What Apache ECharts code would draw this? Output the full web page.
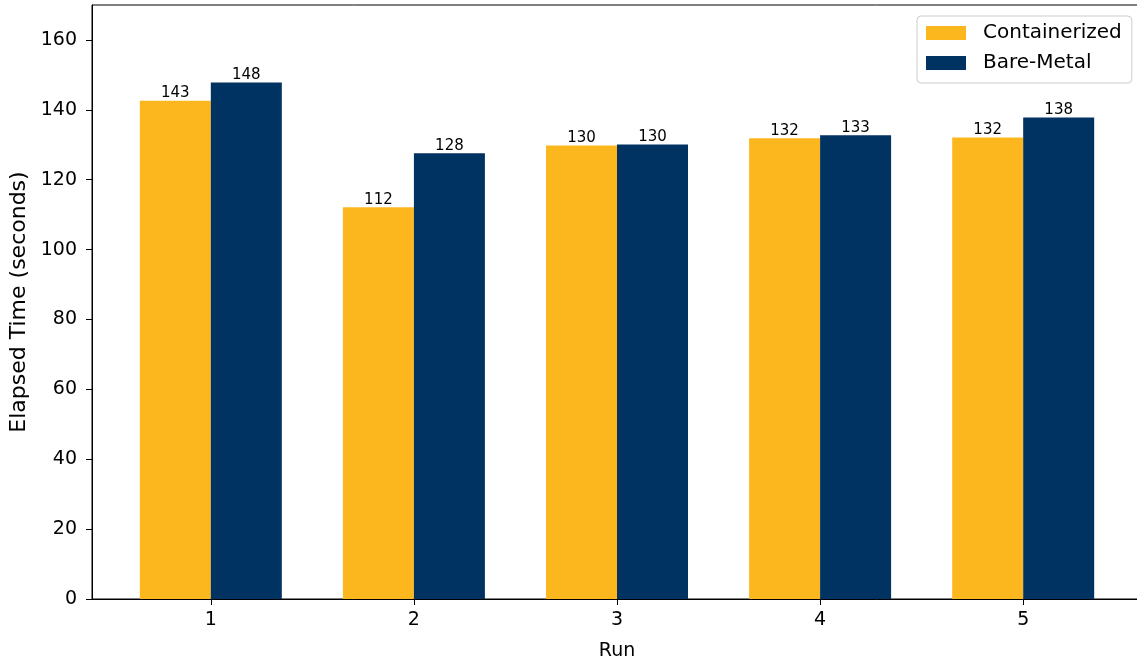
<!DOCTYPE html>
<html>
<head>
<meta charset="utf-8">
<script src="https://cdn.jsdelivr.net/npm/echarts@6/dist/echarts.min.js"></script>
<style>
html,body{margin:0;padding:0;background:#fff;}
#chart{width:1137px;height:661px;}
</style>
</head>
<body>
<div id="chart"></div>
<script>
const runs = [1, 2, 3, 4, 5];
const containerized = [142.6, 112.1, 129.8, 131.9, 132.1];
const bareMetal = [147.8, 127.6, 130.1, 132.7, 137.8];
const yTicks = [0, 20, 40, 60, 80, 100, 120, 140, 160];
const seriesNames = ['Containerized', 'Bare-Metal'];

const FONT = 'DejaVu Sans';
const chart = echarts.init(document.getElementById('chart'), null, {renderer: 'canvas'});

function pairs(vals) { return runs.map((r, i) => [r, vals[i]]); }

const labelOpt = {
  show: true, position: 'top', distance: 0,
  fontFamily: FONT, fontSize: 15, color: '#000',
  formatter: p => String(Math.round(p.value[1]))
};

chart.setOption({
  animation: false,
  backgroundColor: '#fff',
  textStyle: {fontFamily: FONT},
  grid: {left: 92, top: 5, width: 1050, height: 594, show: true, borderColor: '#000', borderWidth: 1,
         backgroundColor: 'transparent', outerBoundsMode: 'none', containLabel: false},
  legend: {
    orient: 'vertical', left: 917, top: 16,
    padding: [7, 10, 10, 9],
    itemWidth: 40, itemHeight: 14, itemGap: 10,
    icon: 'rect',
    backgroundColor: 'rgba(255,255,255,0.8)',
    borderColor: '#cccccc', borderWidth: 1, borderRadius: 4,
    textStyle: {fontFamily: FONT, fontSize: 20, color: '#000', lineHeight: 20, padding: [0, 0, 0, 12]},
    data: seriesNames
  },
  xAxis: {
    type: 'value', min: 0.415, max: 5.585,
    name: 'Run', nameLocation: 'middle', nameGap: 43,
    nameTextStyle: {fontFamily: FONT, fontSize: 19, color: '#000'},
    axisLine: {show: true, onZero: false, lineStyle: {color: '#000', width: 1}},
    axisTick: {show: true, length: 6, customValues: runs, lineStyle: {color: '#000'}},
    axisLabel: {customValues: runs, margin: 12, fontFamily: FONT, fontSize: 19, color: '#000'},
    splitLine: {show: false}
  },
  yAxis: {
    type: 'value', min: 0, max: 170,
    name: 'Elapsed Time (seconds)', nameLocation: 'middle', nameGap: 61, nameRotate: 90,
    nameTextStyle: {fontFamily: FONT, fontSize: 22, color: '#000'},
    axisLine: {show: true, lineStyle: {color: '#000', width: 1}},
    axisTick: {show: true, length: 6, customValues: yTicks, lineStyle: {color: '#000'}},
    axisLabel: {customValues: yTicks, margin: 15, fontFamily: FONT, fontSize: 19, color: '#000'},
    splitLine: {show: false}
  },
  series: [
    {name: seriesNames[0], type: 'bar', data: pairs(containerized), barWidth: 71, barGap: '0%',
     itemStyle: {color: '#FDB71E'}, label: labelOpt},
    {name: seriesNames[1], type: 'bar', data: pairs(bareMetal), barWidth: 71, barGap: '0%',
     itemStyle: {color: '#003262'}, label: labelOpt}
  ]
});
</script>
</body>
</html>
